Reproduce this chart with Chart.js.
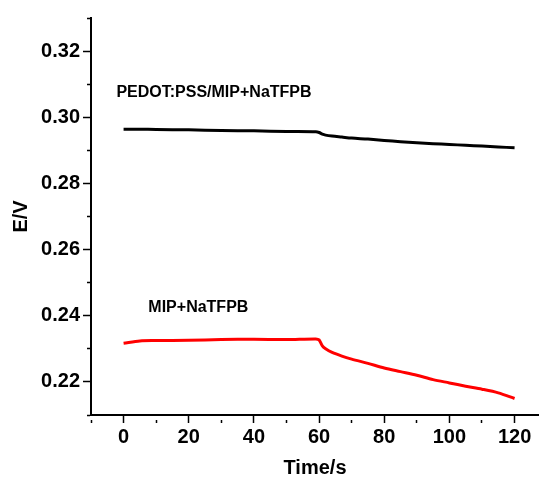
<!DOCTYPE html>
<html>
<head>
<meta charset="utf-8">
<script src="https://cdn.jsdelivr.net/npm/chart.js"></script>
<style>
    body { margin: 0; background: #fff; }
    #box { width: 539px; height: 480px; }
</style>
</head>
<body>
<div id="box"><canvas id="myChart"></canvas></div>

<script>
    // time (s)
    const times = [0, 5, 10, 20, 30, 40, 50, 59, 60, 61, 62, 64, 67, 70, 75, 80, 85, 90, 95, 100, 105, 110, 115, 120];
    // E/V for PEDOT:PSS/MIP+NaTFPB
    const pedotE = [0.2964, 0.2964, 0.2963, 0.2962, 0.2960, 0.2959, 0.2957, 0.2956, 0.2954, 0.2949, 0.2946, 0.2943,
        0.2940, 0.2937, 0.2934, 0.2930, 0.2926, 0.2923, 0.2920, 0.2918, 0.2915, 0.2913, 0.2910, 0.2908];
    // E/V for MIP+NaTFPB
    const mipE = [0.2317, 0.2324, 0.2325, 0.2326, 0.2328, 0.2329, 0.2328, 0.2330, 0.2327, 0.2309, 0.2300, 0.2289,
        0.2278, 0.2269, 0.2256, 0.2242, 0.2231, 0.2220, 0.2207, 0.2197, 0.2187, 0.2178, 0.2167, 0.2150];

    const xTickLabels = [0, 20, 40, 60, 80, 100, 120];
    const yTickLabels = [0.22, 0.24, 0.26, 0.28, 0.30, 0.32];

    // text labels next to the curves: [text, x, y]
    const curveLabels = [
        ['PEDOT:PSS/MIP+NaTFPB', -2.2, 0.3074],
        ['MIP+NaTFPB', 7.6, 0.2424]
    ];

    const toPoints = (xs, ys) => xs.map((x, i) => ({ x: x, y: ys[i] }));

    const FONT = '"Liberation Sans", Arial, sans-serif';

    const labelPlugin = {
        id: 'curveLabels',
        afterDatasetsDraw(chart) {
            const ctx = chart.ctx;
            const xs = chart.scales.x, ys = chart.scales.y;
            ctx.save();
            ctx.fillStyle = '#000';
            ctx.font = 'bold 16px ' + FONT;
            ctx.textAlign = 'left';
            ctx.textBaseline = 'middle';
            curveLabels.forEach(l => {
                ctx.fillText(l[0], xs.getPixelForValue(l[1]), ys.getPixelForValue(l[2]));
            });
            ctx.restore();
        }
    };

    // short dash for minor ticks (only the part next to the axis is drawn)
    const minorDash = [0, 4, 4, 0];

    const config = {
        type: 'scatter',
        data: {
            datasets: [{
                label: 'PEDOT:PSS/MIP+NaTFPB',
                data: toPoints(times, pedotE),
                borderColor: '#000',
                borderWidth: 3,
                showLine: true,
                pointRadius: 0,
                tension: 0.3
            }, {
                label: 'MIP+NaTFPB',
                data: toPoints(times, mipE),
                borderColor: '#ff0000',
                borderWidth: 3,
                showLine: true,
                pointRadius: 0,
                tension: 0.3
            }]
        },
        options: {
            responsive: true,
            maintainAspectRatio: false,
            animation: false,
            layout: { padding: { top: 18, right: 0, left: 0, bottom: 0 } },
            plugins: {
                legend: { display: false },
                tooltip: { enabled: false }
            },
            scales: {
                x: {
                    type: 'linear',
                    min: -10,
                    max: 127.5,
                    afterFit(scale) { scale.height = 65; },
                    border: { display: true, color: '#000', width: 2 },
                    grid: {
                        drawOnChartArea: false,
                        drawTicks: true,
                        tickLength: 8,
                        tickColor: '#000',
                        tickWidth: 1.5,
                        tickBorderDash: c => (c.tick && xTickLabels.includes(Math.round(c.tick.value))) ? [] : minorDash
                    },
                    ticks: {
                        stepSize: 10,
                        includeBounds: false,
                        maxRotation: 0,
                        autoSkip: false,
                        padding: 2,
                        color: '#000',
                        font: { family: FONT, size: 20, weight: 'bold' },
                        callback: v => xTickLabels.includes(Math.round(v)) ? String(Math.round(v)) : ''
                    },
                    title: {
                        display: true,
                        text: 'Time/s',
                        color: '#000',
                        font: { family: FONT, size: 20, weight: 'bold' },
                        padding: { top: 4, bottom: 0 }
                    }
                },
                y: {
                    type: 'linear',
                    min: 0.21,
                    max: 0.33,
                    afterFit(scale) { scale.width = 91; },
                    border: { display: true, color: '#000', width: 2 },
                    grid: {
                        drawOnChartArea: false,
                        drawTicks: true,
                        tickLength: 8,
                        tickColor: '#000',
                        tickWidth: 1.5,
                        tickBorderDash: c => (c.tick && Math.round(c.tick.value * 100) % 2 === 0) ? [] : minorDash
                    },
                    ticks: {
                        stepSize: 0.01,
                        padding: 3,
                        color: '#000',
                        font: { family: FONT, size: 20, weight: 'bold' },
                        callback: v => {
                            const k = Math.round(v * 100);
                            return yTickLabels.includes(k / 100) ? (k / 100).toFixed(2) : '';
                        }
                    },
                    title: {
                        display: true,
                        text: 'E/V',
                        color: '#000',
                        font: { family: FONT, size: 20, weight: 'bold' },
                        padding: { top: 9, bottom: 0 }
                    }
                }
            }
        },
        plugins: [labelPlugin]
    };

    const myChart = new Chart(document.getElementById('myChart'), config);
</script>
</body>
</html>
